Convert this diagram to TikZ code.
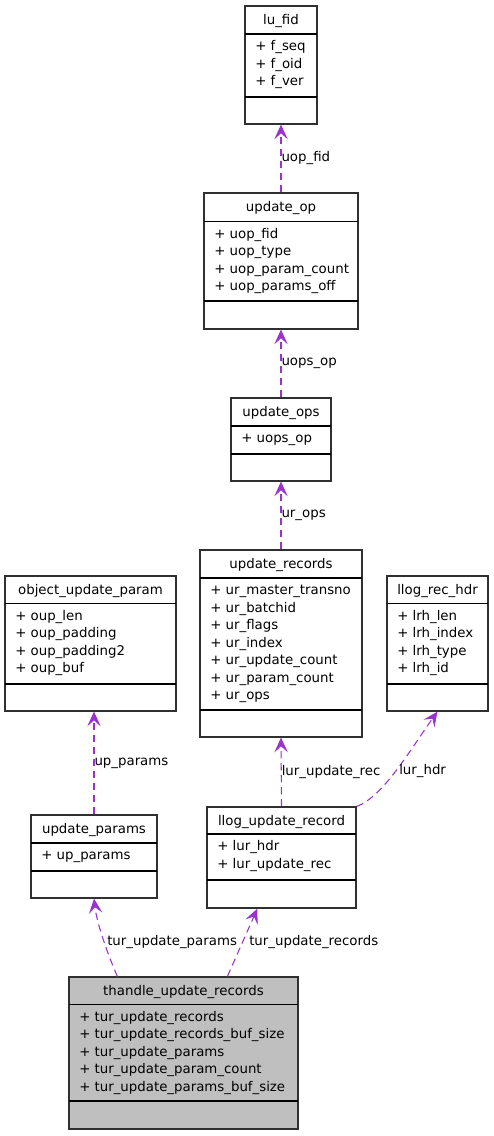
\documentclass[tikz,border=0pt]{standalone}
\usepackage{fontspec}
\setmainfont{DejaVu Sans}
\usetikzlibrary{arrows.meta,fit,calc}
\definecolor{edgec}{HTML}{9A32CD}
\definecolor{thfill}{HTML}{BFBFBF}
\definecolor{boxc}{HTML}{303030}
% #1 name, #2 left, #3 top, #4 right, #5 div1, #6 div2, #7 bottom, #8 title, #9 attributes
\newcommand\umlbox[9]{%
  \node[cls, fit={(#2,#3) (#4,#7)}] (#1) {};
  \draw[divline] (#2,#5) -- (#4,#5);
  \draw[divline] (#2,#6) -- (#4,#6);
  \node[txt, anchor=base] at ({(#2+#4)/2},{#3+18}) {#8};
  \foreach \a [count=\i from 0] in {#9}
    \node[txt, anchor=base west] at ({#2+10},{#5+16.5+17.5*\i}) {\a};
}
\begin{document}
\begin{tikzpicture}[x=0.75pt,y=-0.75pt,
  cls/.style={draw=boxc, line width=0.9pt, inner sep=0pt},
  divline/.style={draw=black, line width=1.1pt},
  txt/.style={inner sep=0pt, font=\fontsize{10}{12}\selectfont},
  lbl/.style={inner sep=0pt, font=\fontsize{10}{12}\selectfont},
  edge/.style={draw=edgec, line width=0.8pt, dash pattern=on 5.5pt off 3.5pt,
    -{Stealth[length=11pt, width=10pt, inset=4.5pt]}}]
\useasboundingbox (0,0) rectangle (493,1136);

\umlbox{lufid}{245}{6}{317}{34}{97}{124}{lu\_fid}{+ f\_seq, + f\_oid, + f\_ver}
\umlbox{uop}{204}{193}{358}{221.5}{301}{329}{update\_op}{+ uop\_fid, + uop\_type, + uop\_param\_count, + uop\_params\_off}
\umlbox{uops}{231}{398}{331}{426}{454}{481}{update\_ops}{+ uops\_op}
\umlbox{ur}{200}{550}{362}{578}{710}{737}{update\_records}{+ ur\_master\_transno, + ur\_batchid, + ur\_flags, + ur\_index, + ur\_update\_count, + ur\_param\_count, + ur\_ops}
\umlbox{lrh}{387}{576}{488}{603.5}{684}{711}{llog\_rec\_hdr}{+ lrh\_len, + lrh\_index, + lrh\_type, + lrh\_id}
\umlbox{oup}{5}{576}{176}{603.5}{684}{711}{object\_update\_param}{+ oup\_len, + oup\_padding, + oup\_padding2, + oup\_buf}
\umlbox{lur}{207}{807}{356}{834}{880}{908}{llog\_update\_record}{+ lur\_hdr, + lur\_update\_rec}
\umlbox{upp}{31}{815}{157}{843}{871}{898}{update\_params}{+ up\_params}
\begin{scope}[cls/.append style={fill=thfill}]
\umlbox{th}{69}{977}{298}{1004.5}{1101}{1129}{thandle\_update\_records}{+ tur\_update\_records, + tur\_update\_records\_buf\_size, + tur\_update\_params, + tur\_update\_param\_count, + tur\_update\_params\_buf\_size}
\end{scope}

\draw[edge] (uop.north) -- node[lbl, anchor=west] {uop\_fid} (lufid.south);
\draw[edge] (uops.north) -- node[lbl, anchor=west] {uops\_op} (uop.south);
\draw[edge] (ur.north) -- node[lbl, anchor=west] {ur\_ops} (uops.south);
\draw[edge] (lur.north) -- node[lbl, anchor=west] {lur\_update\_rec} (ur.south);
\draw[edge] (lur.north east) .. controls (383,797) and (410,750) .. (lrh.south);
\node[lbl, anchor=base west] (lhdr) at (399,774) {lur\_hdr};
\draw[edge] (upp.north) -- node[lbl, anchor=west] {up\_params} (upp.north |- oup.south);
\draw[edge] ($(th.north west)+(49,0)$) .. controls (110,960) and (97,925) .. (upp.south);
\node[lbl, anchor=base west] (ltup) at (107,945) {tur\_update\_params};
\draw[edge] ($(th.north west)+(159,0)$) -- ($(lur.south west)+(51,0)$);
\node[lbl, anchor=base west] (ltur) at (249,945) {tur\_update\_records};
\end{tikzpicture}
\end{document}
